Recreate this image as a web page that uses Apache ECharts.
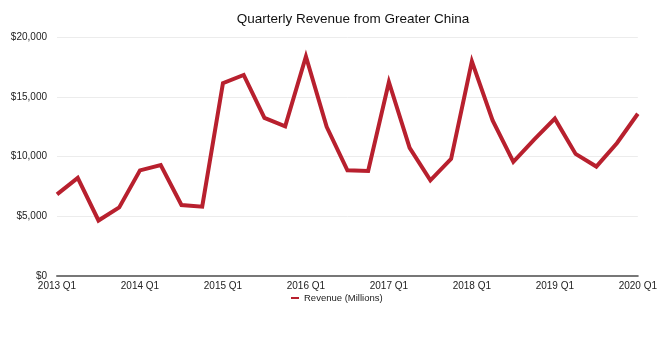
<!DOCTYPE html>
<html><head><meta charset="utf-8">
<script src="https://cdn.jsdelivr.net/npm/echarts@6/dist/echarts.min.js"></script>
<style>html,body{margin:0;padding:0;background:#fff}#c{width:660px;height:345px}</style>
</head><body><div id="c"></div>
<script>
const categories = [];
for (let y = 2013; y <= 2020; y++) for (let q = 1; q <= 4; q++) { if (y === 2020 && q > 1) break; categories.push(y + ' Q' + q); }
const revenue = [6830, 8213, 4645, 5744, 8839, 9286, 5939, 5800,
  16144, 16823, 13230, 12518, 18374, 12486, 8848, 8785,
  16233, 10726, 8004, 9801, 17956, 13024, 9551, 11411,
  13169, 10218, 9157, 11134, 13578];
const yTicks = [0, 5000, 10000, 15000, 20000];
const chart = echarts.init(document.getElementById('c'));
chart.setOption({
  animation: false,
  textStyle: { fontFamily: 'Liberation Sans' },
  title: { text: 'Quarterly Revenue from Greater China', left: 348, textAlign: 'center', top: 7,
    textStyle: { fontSize: 13.5, fontWeight: 'normal', color: '#111', fontFamily: 'Liberation Sans' } },
  legend: { data: ['Revenue (Millions)'], top: 288, left: 286, icon: 'rect', itemWidth: 8, itemHeight: 2, itemGap: 5,
    textStyle: { fontSize: 9.5, color: '#222' } },
  grid: { left: 57, right: 20, top: 37, bottom: 69, containLabel: false },
  xAxis: { type: 'category', data: categories, boundaryGap: false,
    axisLine: { lineStyle: { color: '#777', width: 2 } }, axisTick: { show: false },
    axisLabel: { interval: 3, color: '#222', fontSize: 10, margin: 5 } },
  yAxis: { type: 'value', min: 0, max: 20000, interval: 5000,
    axisLine: { show: false }, axisTick: { show: false },
    splitLine: { lineStyle: { color: '#ececec', width: 1 } },
    axisLabel: { color: '#222', fontSize: 10, margin: 10, formatter: v => '$' + v.toLocaleString('en-US') } },
  series: [{ name: 'Revenue (Millions)', type: 'line', data: revenue, symbol: 'none',
    lineStyle: { color: '#b8202e', width: 4, join: 'miter' }, itemStyle: { color: '#b8202e' } }]
});
</script></body></html>
